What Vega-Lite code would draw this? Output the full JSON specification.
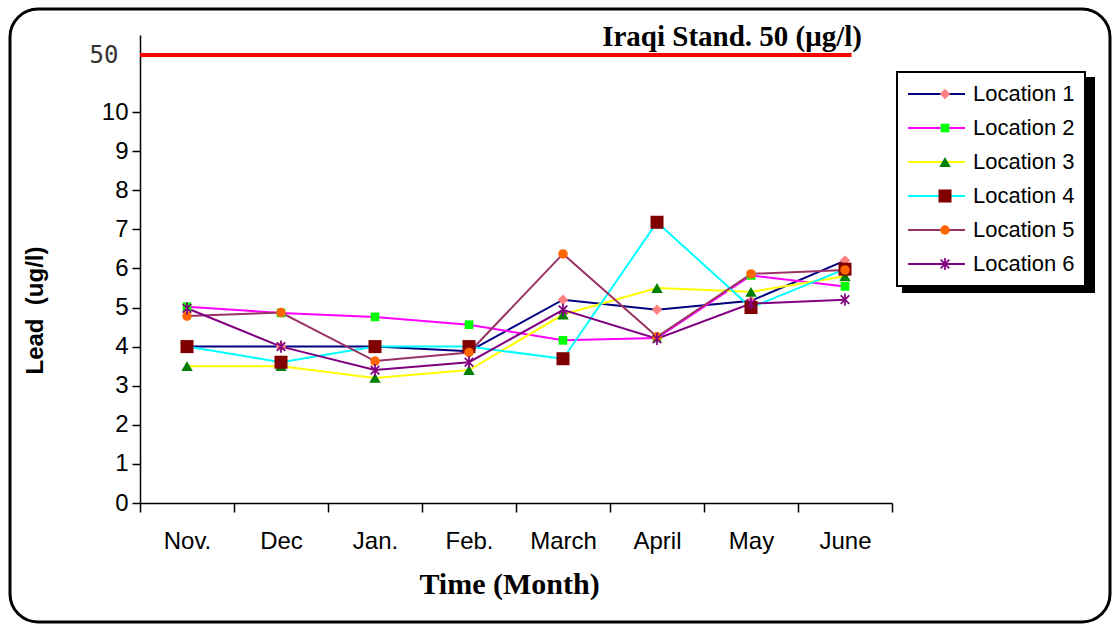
{
  "$schema": "https://vega.github.io/schema/vega-lite/v6.json",
  "width": 752,
  "height": 468,
  "autosize": {"type": "none"},
  "padding": {"left": 140, "top": 35, "right": 223, "bottom": 123},
  "background": "white",
  "config": {
    "view": {"stroke": null},
    "font": "Liberation Sans",
    "legend": {"strokeWidth": 2}
  },
  "data": {
    "values": [
      {"Month": "Nov.", "Location": "Location 1", "Lead": 4.0},
      {"Month": "Dec", "Location": "Location 1", "Lead": 4.0},
      {"Month": "Jan.", "Location": "Location 1", "Lead": 4.0},
      {"Month": "Feb.", "Location": "Location 1", "Lead": 3.88},
      {"Month": "March", "Location": "Location 1", "Lead": 5.2},
      {"Month": "April", "Location": "Location 1", "Lead": 4.94},
      {"Month": "May", "Location": "Location 1", "Lead": 5.17},
      {"Month": "June", "Location": "Location 1", "Lead": 6.2},
      {"Month": "Nov.", "Location": "Location 2", "Lead": 5.02},
      {"Month": "Dec", "Location": "Location 2", "Lead": 4.86},
      {"Month": "Jan.", "Location": "Location 2", "Lead": 4.76},
      {"Month": "Feb.", "Location": "Location 2", "Lead": 4.56},
      {"Month": "March", "Location": "Location 2", "Lead": 4.16},
      {"Month": "April", "Location": "Location 2", "Lead": 4.22},
      {"Month": "May", "Location": "Location 2", "Lead": 5.82},
      {"Month": "June", "Location": "Location 2", "Lead": 5.54},
      {"Month": "Nov.", "Location": "Location 3", "Lead": 3.5},
      {"Month": "Dec", "Location": "Location 3", "Lead": 3.5},
      {"Month": "Jan.", "Location": "Location 3", "Lead": 3.2},
      {"Month": "Feb.", "Location": "Location 3", "Lead": 3.4},
      {"Month": "March", "Location": "Location 3", "Lead": 4.82},
      {"Month": "April", "Location": "Location 3", "Lead": 5.5},
      {"Month": "May", "Location": "Location 3", "Lead": 5.4},
      {"Month": "June", "Location": "Location 3", "Lead": 5.8},
      {"Month": "Nov.", "Location": "Location 4", "Lead": 4.0},
      {"Month": "Dec", "Location": "Location 4", "Lead": 3.6},
      {"Month": "Jan.", "Location": "Location 4", "Lead": 4.0},
      {"Month": "Feb.", "Location": "Location 4", "Lead": 4.0},
      {"Month": "March", "Location": "Location 4", "Lead": 3.69},
      {"Month": "April", "Location": "Location 4", "Lead": 7.18},
      {"Month": "May", "Location": "Location 4", "Lead": 5.0},
      {"Month": "June", "Location": "Location 4", "Lead": 5.98},
      {"Month": "Nov.", "Location": "Location 5", "Lead": 4.78},
      {"Month": "Dec", "Location": "Location 5", "Lead": 4.87},
      {"Month": "Jan.", "Location": "Location 5", "Lead": 3.63},
      {"Month": "Feb.", "Location": "Location 5", "Lead": 3.85},
      {"Month": "March", "Location": "Location 5", "Lead": 6.37},
      {"Month": "April", "Location": "Location 5", "Lead": 4.25},
      {"Month": "May", "Location": "Location 5", "Lead": 5.86},
      {"Month": "June", "Location": "Location 5", "Lead": 5.96},
      {"Month": "Nov.", "Location": "Location 6", "Lead": 4.98},
      {"Month": "Dec", "Location": "Location 6", "Lead": 4.0},
      {"Month": "Jan.", "Location": "Location 6", "Lead": 3.4},
      {"Month": "Feb.", "Location": "Location 6", "Lead": 3.6},
      {"Month": "March", "Location": "Location 6", "Lead": 4.94},
      {"Month": "April", "Location": "Location 6", "Lead": 4.2},
      {"Month": "May", "Location": "Location 6", "Lead": 5.1},
      {"Month": "June", "Location": "Location 6", "Lead": 5.2}
    ]
  },
  "layer": [
    {
      "mark": {"type": "line", "opacity": 0},
      "encoding": {
        "x": {
          "field": "Month", "type": "ordinal",
          "sort": ["Nov.", "Dec", "Jan.", "Feb.", "March", "April", "May", "June"],
          "scale": {"type": "band", "paddingInner": 0, "paddingOuter": 0},
          "bandPosition": 0.5,
          "axis": {
            "title": "Time (Month)",
            "titleFont": "Liberation Serif", "titleFontWeight": "bold", "titleFontSize": 30, "titleColor": "black",
            "titleX": 369, "titleAlign": "center", "titleY": 90, "titleBaseline": "alphabetic",
            "labelFont": "Liberation Sans", "labelFontSize": 24, "labelColor": "black", "labelAngle": 0,
            "labelAlign": "center", "labelPadding": 17,
            "tickBand": "extent", "tickSize": 9, "tickColor": "black", "tickWidth": 1.5,
            "domainColor": "black", "domainWidth": 1.5, "grid": false
          }
        },
        "y": {
          "field": "Lead", "type": "quantitative",
          "scale": {"domain": [0, 10, 50, 54], "range": [468, 77, 20, 0], "nice": false, "zero": false},
          "axis": {
            "title": "Lead\u00a0 (ug/l)",
            "titleFont": "Liberation Sans", "titleFontWeight": "bold", "titleFontSize": 24, "titleColor": "black",
            "titleX": -98, "titleY": 275, "titleAngle": -90, "titleAlign": "center", "titleBaseline": "alphabetic",
            "values": [0, 1, 2, 3, 4, 5, 6, 7, 8, 9, 10, 50],
            "labelFont": {"condition": {"test": "datum.value == 50", "value": "DejaVu Sans Mono"}, "value": "Liberation Sans"},
            "labelFontSize": 24,
            "labelColor": {"condition": {"test": "datum.value == 50", "value": "#333333"}, "value": "black"},
            "labelPadding": {"condition": {"test": "datum.value == 50", "value": 14}, "value": 4},
            "tickOpacity": {"condition": {"test": "datum.value == 50", "value": 0}, "value": 1},
            "tickSize": 8, "tickColor": "black", "tickWidth": 1.5,
            "domainColor": "black", "domainWidth": 1.5, "grid": false
          }
        },
        "strokeDash": {
          "field": "Location", "type": "nominal", "sort": "descending",
          "legend": {
            "orient": "none", "legendX": 763, "legendY": 43, "title": null,
            "symbolType": "stroke", "symbolSize": 26244, "symbolStrokeWidth": 2, "symbolOpacity": 0,
            "labelExpr": "''", "labelFontSize": 22, "labelOffset": 7,
            "strokeColor": "black", "fillColor": "black", "padding": 10, "rowPadding": 10, "clipHeight": 24
          }
        }
      }
    },
    {
      "mark": {"type": "point", "opacity": 0},
      "encoding": {
        "x": {"field": "Month", "type": "ordinal", "sort": ["Nov.", "Dec", "Jan.", "Feb.", "March", "April", "May", "June"], "bandPosition": 0.5},
        "y": {"field": "Lead", "type": "quantitative"},
        "color": {
          "field": "Lead", "type": "quantitative",
          "legend": {
            "orient": "none", "legendX": -130, "legendY": -26, "title": null,
            "direction": "horizontal", "gradientLength": 1096, "gradientThickness": 608,
            "gradientOpacity": 0, "gradientStrokeWidth": 0,
            "labelExpr": "''", "labelFontSize": 1, "labelOffset": 0,
            "padding": 2, "cornerRadius": 28, "strokeColor": "black",
            "encode": {"legend": {"update": {"strokeWidth": {"value": 3}}}}
          }
        }
      }
    },
    {
      "mark": {"type": "line", "strokeWidth": 2},
      "encoding": {
        "x": {"field": "Month", "type": "ordinal", "sort": ["Nov.", "Dec", "Jan.", "Feb.", "March", "April", "May", "June"], "bandPosition": 0.5},
        "y": {"field": "Lead", "type": "quantitative"},
        "stroke": {
          "field": "Location", "type": "nominal",
          "scale": {
            "domain": ["Location 1", "Location 2", "Location 3", "Location 4", "Location 5", "Location 6"],
            "range": ["#000080", "#FF00FF", "#FFFF00", "#00FFFF", "#993366", "#800080"]
          },
          "legend": {
            "orient": "none", "legendX": 757, "legendY": 37, "title": null,
            "symbolType": "stroke", "symbolSize": 3249, "symbolStrokeWidth": 2,
            "labelFont": "Liberation Sans", "labelFontSize": 22, "labelColor": "black", "labelOffset": 7,
            "strokeColor": "black", "fillColor": "white", "padding": 10, "rowPadding": 10, "clipHeight": 24
          }
        }
      }
    },
    {
      "mark": {"type": "point", "filled": true, "opacity": 1, "strokeWidth": 0},
      "encoding": {
        "x": {"field": "Month", "type": "ordinal", "sort": ["Nov.", "Dec", "Jan.", "Feb.", "March", "April", "May", "June"], "bandPosition": 0.5},
        "y": {"field": "Lead", "type": "quantitative"},
        "fill": {
          "field": "Location", "type": "nominal",
          "scale": {"range": ["#FF8080", "#00FF00", "#008000", "#800000", "#FF6600", "#800080"]},
          "legend": {
            "orient": "none", "legendX": 784, "legendY": 37, "title": null,
            "symbolStrokeWidth": 0,
            "labelExpr": "''", "labelFontSize": 22, "labelOffset": 0,
            "padding": 10, "rowPadding": 10, "clipHeight": 24
          }
        },
        "shape": {
          "field": "Location", "type": "nominal",
          "scale": {"range": ["diamond", "square", "triangle-up", "square", "circle", "M-0.14,-1L0.14,-1L0.14,1L-0.14,1ZM-0.8,-0.6L-0.6,-0.8L0.8,0.6L0.6,0.8ZM0.6,-0.8L0.8,-0.6L-0.6,0.8L-0.8,0.6Z"]},
          "legend": {
            "orient": "none", "legendX": 784, "legendY": 37, "title": null,
            "symbolStrokeWidth": 0,
            "labelExpr": "''", "labelFontSize": 22, "labelOffset": 0,
            "padding": 10, "rowPadding": 10, "clipHeight": 24
          }
        },
        "size": {
          "field": "Location", "type": "nominal",
          "scale": {"type": "ordinal", "range": [110, 75, 130, 170, 90, 150]},
          "legend": {
            "orient": "none", "legendX": 784, "legendY": 37, "title": null,
            "symbolStrokeWidth": 0,
            "labelExpr": "''", "labelFontSize": 22, "labelOffset": 0,
            "padding": 10, "rowPadding": 10, "clipHeight": 24
          }
        }
      }
    },
    {
      "data": {"values": [{"Standard": 50, "Label": "Iraqi Stand. 50 (μg/l)"}]},
      "layer": [
        {
          "mark": {"type": "rule", "color": "#FF0000", "strokeWidth": 4},
          "encoding": {
            "x": {"datum": "Nov.", "type": "ordinal", "bandPosition": 0},
            "x2": {"datum": "June", "bandPosition": 0.57},
            "y": {"field": "Standard", "type": "quantitative"}
          }
        },
        {
          "mark": {"type": "text", "align": "right", "baseline": "alphabetic", "dy": -9, "font": "Liberation Serif", "fontWeight": "bold", "fontSize": 29, "color": "black"},
          "encoding": {
            "x": {"datum": "June", "type": "ordinal", "bandPosition": 0.68},
            "y": {"field": "Standard", "type": "quantitative"},
            "text": {"field": "Label"}
          }
        }
      ]
    }
  ]
}
